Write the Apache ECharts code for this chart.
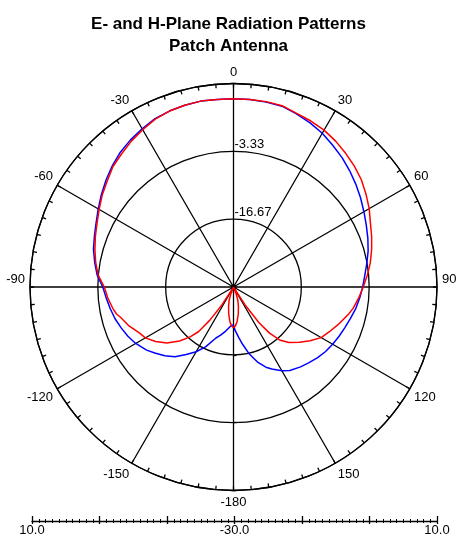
<!DOCTYPE html>
<html>
<head>
<meta charset="utf-8">
<script src="https://cdn.jsdelivr.net/npm/echarts@6/dist/echarts.min.js"></script>
<style>
  html, body { margin: 0; padding: 0; background: #fff; }
  #chart { width: 457px; height: 542px; }
</style>
</head>
<body>
<div id="chart"></div>
<script>
// Title lines
const titleLines = ['E- and H-Plane Radiation Patterns', 'Patch Antenna'];

// Radial scale (dB): centre to rim, split into three rings
const radialMin = -30;
const radialMax = 10;
const ringCount = 3;
const ringLabels = ['-16.67', '-3.33'];
const ringValues = [-50 / 3, -10 / 3];

// Angle axis (degrees, 0 at top, clockwise positive)
const angleMin = -180;
const angleMax = 180;
const angleStep = 30;

// Bottom ruler: offset from centre of the ruler and the printed value
const rulerPositions = [-40, 0, 40];
const rulerLabels = ['10.0', '-30.0', '10.0'];

// Red pattern (dB) vs angle (deg)
const redAngles = [
  -180, -177, -174, -170, -166, -162, -159, -156, -153, -150, -147, -144.5, -142, -139,
  -135, -130, -125, -120, -116, -110, -105, -103, -100, -95, -90, -85, -80, -75, -70,
  -65, -60, -55, -50, -45, -40, -35, -30, -25, -20, -15, -10, -5, 0,
  5, 10, 15, 20, 25, 30, 35, 40, 45, 50, 55, 60, 65, 70, 75, 80, 85, 90,
  95, 100, 103, 110, 115, 120, 125, 130, 135, 139, 142, 144.5, 147, 150,
  153, 156, 159, 162, 166, 170, 174, 177, 180
];
const redValues = [
  -22.0, -22.4, -23.2, -24.6, -26.0, -27.2, -28.5, -30.0, -30.0, -29.5, -25.8, -22.0, -18.9, -17.0,
  -15.0, -12.9, -11.3, -10.0, -9.4, -8.0, -7.0, -6.4, -5.9, -5.2, -4.6, -3.3, -2.5, -1.8, -1.1,
  -0.4, 0.5, 1.5, 2.4, 3.5, 4.2, 5.0, 5.7, 6.4, 6.8, 7.0, 7.1, 7.0, 7.0,
  7.0, 7.0, 6.9, 6.3, 6.0, 5.6, 5.0, 4.3, 3.6, 2.8, 1.8, 0.8, -0.3, -1.1, -1.9, -2.7, -3.6, -4.5,
  -5.3, -6.1, -6.7, -8.2, -9.2, -10.1, -11.6, -13.1, -14.6, -16.2, -18.5, -21.5, -25.8, -29.5,
  -30.0, -30.0, -28.5, -27.2, -26.0, -24.6, -23.2, -22.4, -22.0
];

// Blue pattern (dB) vs angle (deg)
const blueAngles = [
  -180, -176, -170, -165, -161, -155, -150, -145, -140, -135, -130, -126, -120, -115,
  -110, -105, -100, -95, -90, -85, -80, -75, -70, -65, -60, -55, -50, -45, -40, -35,
  -30, -25, -20, -15, -10, -5, 0, 5, 10, 15, 20, 25, 30, 35, 40, 45, 50, 55, 60, 65,
  70, 75, 80, 85, 90, 95, 100, 105, 110, 115, 120, 125, 130, 135, 140, 146, 150, 155,
  158, 162, 167, 171, 174, 178, 180
];
const blueValues = [
  -22.6, -22.3, -21.2, -20.2, -19.4, -17.0, -15.3, -13.8, -12.1, -10.9, -9.8, -8.9, -7.8, -7.1,
  -6.5, -5.9, -5.4, -4.9, -4.3, -3.1, -2.3, -1.5, -0.9, -0.2, 0.7, 1.7, 2.7, 3.7, 4.6, 5.3,
  5.9, 6.5, 6.8, 7.0, 7.1, 7.0, 7.0, 7.0, 6.9, 6.8, 6.2, 5.6, 4.9, 4.0, 3.2, 2.3, 1.4, 0.5, -0.4, -1.2,
  -1.9, -2.6, -3.4, -4.1, -4.6, -5.1, -5.6, -6.2, -6.7, -7.1, -7.5, -7.9, -8.4, -9.0, -9.5, -10.2, -11.0, -12.2,
  -13.0, -14.4, -16.6, -18.6, -20.0, -21.5, -22.6
];

const FONT = 'Arial, "Liberation Sans", sans-serif';
const INK = '#000';
const GRID_W = 1.3;

const chart = echarts.init(document.getElementById('chart'), null, { renderer: 'canvas' });

const option = {
  animation: false,
  backgroundColor: '#fff',
  title: {
    text: titleLines.join('\n'),
    left: 'center',
    top: 8,
    textStyle: { fontFamily: FONT, fontWeight: 'bold', fontSize: 17, lineHeight: 22, color: INK }
  },
  polar: { center: [233.5, 287], radius: 203.5 },
  angleAxis: {
    type: 'value',
    min: angleMin,
    max: angleMax,
    interval: angleStep,
    startAngle: 270,
    clockwise: true,
    axisLine: { lineStyle: { color: INK, width: GRID_W } },
    axisTick: { show: true, inside: true, length: 4, lineStyle: { color: INK, width: GRID_W } },
    minorTick: { show: true, splitNumber: 6, length: 4, lineStyle: { color: INK, width: GRID_W } },
    splitLine: { show: true, lineStyle: { color: INK, width: GRID_W } },
    axisLabel: {
      margin: 5,
      fontFamily: FONT,
      fontSize: 13,
      color: INK,
      formatter: function (v) {
        if (v === angleMax) return '';
        if (Math.abs(v) === 90) return '{side|' + v + '}';
        return String(v);
      },
      rich: { side: { fontFamily: FONT, fontSize: 13, color: INK, padding: [0, 0, 16, 0] } }
    }
  },
  radiusAxis: {
    type: 'value',
    min: radialMin,
    max: radialMax,
    interval: (radialMax - radialMin) / ringCount,
    axisLine: { show: false },
    axisTick: { show: true, length: 3, lineStyle: { color: INK, width: GRID_W } },
    axisLabel: { show: false },
    splitLine: { show: true, lineStyle: { color: INK, width: GRID_W } }
  },
  grid: { left: 32, width: 405, top: 480, height: 41, show: false },
  xAxis: [
    {
      type: 'value',
      min: -40,
      max: 40,
      interval: 40 / ringCount,
      position: 'bottom',
      axisLine: { show: true, lineStyle: { color: INK, width: GRID_W } },
      axisTick: { show: true, inside: false, length: 3, lineStyle: { color: INK, width: GRID_W } },
      minorTick: { show: true, splitNumber: 10, length: 2, lineStyle: { color: INK } },
      splitLine: { show: false },
      axisLabel: {
        margin: 3,
        fontFamily: FONT,
        fontSize: 13,
        color: INK,
        showMinLabel: true,
        showMaxLabel: true,
        formatter: function (v) {
          for (let i = 0; i < rulerPositions.length; i++) {
            if (Math.abs(v - rulerPositions[i]) < 1e-6) return rulerLabels[i];
          }
          return '';
        }
      }
    },
    {
      type: 'value',
      min: -40,
      max: 40,
      interval: 40 / ringCount,
      position: 'bottom',
      axisLine: { show: false },
      axisTick: { show: true, inside: true, length: 5, lineStyle: { color: INK, width: GRID_W } },
      minorTick: { show: true, splitNumber: 10, length: 2, lineStyle: { color: INK } },
      splitLine: { show: false },
      axisLabel: { show: false }
    }
  ],
  yAxis: { type: 'value', show: false, min: 0, max: 1 },
  series: [
    {
      name: 'H-Plane',
      type: 'line',
      coordinateSystem: 'polar',
      data: blueAngles.map(function (a, i) { return [blueValues[i], a]; }),
      symbol: 'none',
      lineStyle: { color: '#0000ff', width: 1.5 },
      z: 3
    },
    {
      name: 'E-Plane',
      type: 'line',
      coordinateSystem: 'polar',
      data: redAngles.map(function (a, i) { return [redValues[i], a]; }),
      symbol: 'none',
      lineStyle: { color: '#ff0000', width: 1.5 },
      z: 4
    }
  ]
};

chart.setOption(option);

// Ring value labels next to the vertical axis, just above each ring
const ringText = ringValues.map(function (val, i) {
  const p = chart.convertToPixel({ polarIndex: 0 }, [val, 0]);
  return {
    type: 'text',
    x: p[0] + 1,
    y: p[1] - 6.5,
    z: 10,
    style: {
      text: ringLabels[i],
      fontFamily: FONT,
      fontSize: 13,
      fill: INK,
      align: 'left',
      verticalAlign: 'middle'
    }
  };
});
chart.setOption({ graphic: ringText });
</script>
</body>
</html>
